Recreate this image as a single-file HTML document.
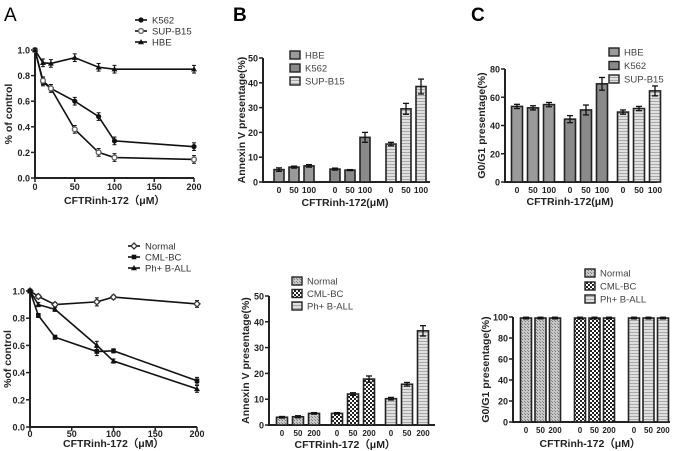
<!DOCTYPE html>
<html><head><meta charset="utf-8"><style>
html,body{margin:0;padding:0;background:#fff;}
svg{display:block;font-family:"Liberation Sans",Arial,sans-serif;}
</style></head><body>
<svg id="fig" width="675" height="451" viewBox="0 0 675 451">
<defs>
<pattern id="pStripe" width="4" height="3" patternUnits="userSpaceOnUse"><rect width="4" height="3" fill="#e0e0e0"/><rect y="2" width="4" height="1" fill="#a8a8a8"/></pattern>
<pattern id="pDots" width="3" height="3" patternUnits="userSpaceOnUse"><rect width="3" height="3" fill="#c8c8c8"/><rect width="1" height="1" fill="#777"/><rect x="2" y="2" width="1" height="1" fill="#888"/></pattern>
<pattern id="pCheck" width="4" height="4" patternUnits="userSpaceOnUse"><rect width="4" height="4" fill="#fff"/><rect width="2" height="2" fill="#222"/><rect x="2" y="2" width="2" height="2" fill="#222"/></pattern>
</defs>
<text x="4" y="21" font-size="19">A</text>
<text x="233" y="21" font-size="19" font-weight="bold">B</text>
<text x="471" y="21" font-size="19" font-weight="bold">C</text>
</svg>
<script>
// ---- Panel A top data ----
const aTopX = [0, 10, 20, 50, 80, 100, 200];
const aTopK562 = [1.0, 0.75, 0.70, 0.60, 0.48, 0.29, 0.245];
const aTopSUP = [1.0, 0.76, 0.70, 0.38, 0.20, 0.16, 0.145];
const aTopHBE = [1.0, 0.90, 0.895, 0.94, 0.865, 0.85, 0.85];
const aTopErr = [0.01, 0.03, 0.03, 0.03, 0.03, 0.03, 0.03];
const aTopSeries = ["K562", "SUP-B15", "HBE"];
const lineYTicks = [0, 0.2, 0.4, 0.6, 0.8, 1.0];
const lineXTicks = [0, 50, 100, 150, 200];
// ---- Panel A bottom data ----
const aBotX = [0, 10, 30, 80, 100, 200];
const aBotNormal = [1.0, 0.96, 0.90, 0.92, 0.955, 0.905];
const aBotCML = [1.0, 0.82, 0.66, 0.555, 0.56, 0.34];
const aBotPh = [1.0, 0.90, 0.865, 0.60, 0.485, 0.28];
const aBotErr = [0.01, 0.015, 0.015, 0.03, 0.015, 0.025];
const aBotSeries = ["Normal", "CML-BC", "Ph+ B-ALL"];
// ---- Panel B top data ----
const bTopCats = ["0", "50", "100"];
const bTopSeries = ["HBE", "K562", "SUP-B15"];
const bTopVals = [[5, 6, 6.5], [5.2, 4.8, 18], [15.3, 29.5, 38.5]];
const bTopErr = [[0.7, 0.4, 0.5], [0.4, 0.2, 2.0], [0.7, 2.2, 3.0]];
const bTopTicks = [0, 10, 20, 30, 40, 50];
// ---- Panel C top data ----
const cTopCats = ["0", "50", "100"];
const cTopSeries = ["HBE", "K562", "SUP-B15"];
const cTopVals = [[53.5, 52.5, 54.8], [44.5, 51, 69.5], [49.5, 52, 64.5]];
const cTopErr = [[1.5, 1.5, 1.5], [2.5, 3.5, 4.5], [1.5, 1.5, 3.5]];
const cTopTicks = [0, 20, 40, 60, 80];
// ---- Panel B bottom data ----
const bBotCats = ["0", "50", "200"];
const bBotSeries = ["Normal", "CML-BC", "Ph+ B-ALL"];
const bBotVals = [[3, 3.2, 4.5], [4.5, 12, 17.8], [10.2, 15.8, 36.5]];
const bBotErr = [[0.3, 0.4, 0.3], [0.3, 0.5, 1.2], [0.5, 0.7, 2.0]];
const bBotTicks = [0, 10, 20, 30, 40, 50];
// ---- Panel C bottom data ----
const cBotCats = ["0", "50", "200"];
const cBotSeries = ["Normal", "CML-BC", "Ph+ B-ALL"];
const cBotVals = [[99, 99, 99], [99, 99, 99], [99, 99, 99]];
const cBotErr = [[0.8, 0.8, 0.8], [0.8, 0.8, 0.8], [0.8, 0.8, 0.8]];
const cBotTicks = [0, 20, 40, 60, 80, 100];

const NS = "http://www.w3.org/2000/svg";
const svg = document.getElementById("fig");
function mk(tag, attrs, parent, txt) {
  const e = document.createElementNS(NS, tag);
  for (const k in attrs) e.setAttribute(k, attrs[k]);
  if (txt !== undefined) e.textContent = txt;
  (parent || svg).appendChild(e);
  return e;
}

function axes(g, x0, x1, y0, y1, yTicks, yMin, yMax, yFmt, yTitle, yTitleX) {
  const sy = v => y0 - (v - yMin) / (yMax - yMin) * (y0 - y1);
  const ax = mk("line", {x1: x0, y1: y1, x2: x0, y2: y0, stroke: "#222", "stroke-width": 2}, g);
  
  
  const bx = mk("line", {x1: x0 - 1, y1: y0, x2: x1, y2: y0, stroke: "#222", "stroke-width": 2}, g);
  
  
  yTicks.forEach(t => {
    const y = sy(t);
    mk("line", {x1: x0 - 4, y1: y, x2: x0, y2: y, stroke: "#222", "stroke-width": 1.5}, g);
    const tl = mk("text", {x: x0 - 5, y: y + 3.5, "font-size": 9, "font-weight": "bold", "text-anchor": "end", fill: "#222"}, g, yFmt(t));
    
    
  });
  const cy = (y0 + y1) / 2;
  const yt = mk("text", {x: yTitleX, y: cy, "font-size": 10.5, "font-weight": "bold", "text-anchor": "middle", fill: "#222", transform: `rotate(-90 ${yTitleX} ${cy})`}, g, yTitle);
  
  
  return sy;
}

function lineChart(o) {
  const g = mk("g", {}, svg);
  
  
  const sy = axes(g, o.x0, o.x1, o.y0, o.y1, lineYTicks, 0, 1, v => v.toFixed(1), o.ytitle, o.ytx);
  const sx = v => o.x0 + v / 200 * (o.x1 - o.x0);
  lineXTicks.forEach(t => {
    mk("line", {x1: sx(t), y1: o.y0, x2: sx(t), y2: o.y0 + 4, stroke: "#222", "stroke-width": 1.5}, g);
    const tl = mk("text", {x: sx(t), y: o.y0 + o.tickOff, "font-size": 9, "font-weight": "bold", "text-anchor": "middle", fill: "#222"}, g, String(t));
    
    
  });
  const xt = mk("text", {x: (o.x0 + o.x1) / 2, y: o.y0 + o.titleOff, "font-size": 10.5, "font-weight": "bold", "text-anchor": "middle", fill: "#222"}, g, "CFTRinh-172\uFF08\u03BCM\uFF09");
  
  
  o.series.forEach((s, i) => {
    const pts = o.xs.map((x, j) => sx(x) + "," + sy(s.vals[j])).join(" ");
    const pl = mk("polyline", {points: pts, fill: "none", stroke: "#111", "stroke-width": 1.6}, g);
    
    
    o.xs.forEach((x, j) => {
      const cx = sx(x), cy = sy(s.vals[j]), e = o.err[j];
      mk("line", {x1: cx, y1: sy(s.vals[j] + e), x2: cx, y2: sy(s.vals[j] - e), stroke: "#111", "stroke-width": 1.2}, g);
      mk("line", {x1: cx - 2, y1: sy(s.vals[j] + e), x2: cx + 2, y2: sy(s.vals[j] + e), stroke: "#111", "stroke-width": 1}, g);
      mk("line", {x1: cx - 2, y1: sy(s.vals[j] - e), x2: cx + 2, y2: sy(s.vals[j] - e), stroke: "#111", "stroke-width": 1}, g);
      marker(g, s.marker, cx, cy, 'point-' + s.label.toLowerCase().replace(/[^a-z0-9]+/g, '-'));
    });
    const ly = o.legY + i * o.legDy;
    mk("line", {x1: o.legX - 6, y1: ly, x2: o.legX + 6, y2: ly, stroke: "#111", "stroke-width": 1.6}, g);
    marker(g, s.marker, o.legX, ly, 'legend-marker');
    const lt = mk("text", {x: o.legX + 11, y: ly + 3.5, "font-size": 9.5, fill: "#333"}, g, s.label);
    
    
  });
}
function marker(g, type, cx, cy, name) {
  let m;
  if (type === "circle") m = mk("circle", {cx, cy, r: 2.6, fill: "#111"}, g);
  else if (type === "ocircle") m = mk("circle", {cx, cy, r: 2.4, fill: "#fff", stroke: "#666", "stroke-width": 1.4}, g);
  else if (type === "square") m = mk("rect", {x: cx - 2.3, y: cy - 2.3, width: 4.6, height: 4.6, fill: "#111"}, g);
  else if (type === "tri") m = mk("polygon", {points: `${cx},${cy - 3} ${cx + 3},${cy + 2.2} ${cx - 3},${cy + 2.2}`, fill: "#111"}, g);
  else if (type === "diamond") m = mk("polygon", {points: `${cx},${cy - 3} ${cx + 3},${cy} ${cx},${cy + 3} ${cx - 3},${cy}`, fill: "#fff", stroke: "#333", "stroke-width": 1.3}, g);
  
  
}

function barChart(o) {
  const g = mk("g", {}, svg);
  
  
  const yMax = o.ticks[o.ticks.length - 1];
  const sy = axes(g, o.x0, o.x1, o.y0, o.y1, o.ticks, 0, yMax, v => String(v), o.ytitle, o.ytx);
  const bw = o.bw;
  o.vals.forEach((grp, gi) => {
    grp.forEach((v, ci) => {
      const cx = o.gx[gi] + ci * o.step;
      const r = mk("rect", {x: cx - bw / 2, y: sy(v), width: bw, height: o.y0 - sy(v), fill: o.fills[gi], stroke: "#222", "stroke-width": 1.6}, g);
      
      
      const e = o.err[gi][ci];
      mk("line", {x1: cx, y1: sy(v + e), x2: cx, y2: sy(v - e), stroke: "#111", "stroke-width": 1.3}, g);
      mk("line", {x1: cx - 3, y1: sy(v + e), x2: cx + 3, y2: sy(v + e), stroke: "#111", "stroke-width": 1.3}, g);
      mk("line", {x1: cx - 3, y1: sy(v - e), x2: cx + 3, y2: sy(v - e), stroke: "#111", "stroke-width": 1.3}, g);
      const tl = mk("text", {x: cx, y: o.y0 + o.tickOff, "font-size": o.tfs, "font-weight": "bold", "text-anchor": "middle", fill: "#222"}, g, o.cats[ci]);
      
      
    });
    const ly = o.legY + gi * o.legDy;
    const lb = mk("rect", {x: o.legX, y: ly - 4, width: 10, height: 8, fill: o.fills[gi], stroke: "#222", "stroke-width": 1.4}, g);
    
    
    const lt = mk("text", {x: o.legX + 15, y: ly + 3.5, "font-size": 9.5, fill: "#444"}, g, o.series[gi]);
    
    
  });
  const xt = mk("text", {x: o.xtx, y: o.y0 + o.titleOff, "font-size": 10.5, "font-weight": "bold", "text-anchor": "middle", fill: "#222"}, g, o.xtitle);
  
  
}

lineChart({name: "chart-a-top", x0: 35, x1: 194, y0: 178, y1: 50, ytx: 12, ytitle: "% of control", xs: aTopX, err: aTopErr,
  tickOff: 12, titleOff: 26,
  legX: 141, legY: 20, legDy: 11,
  series: [{label: aTopSeries[0], vals: aTopK562, marker: "circle"},
           {label: aTopSeries[1], vals: aTopSUP, marker: "ocircle"},
           {label: aTopSeries[2], vals: aTopHBE, marker: "tri"}]});
lineChart({name: "chart-a-bottom", x0: 30, x1: 197, y0: 427, y1: 291, ytx: 11, ytitle: "%of control", xs: aBotX, err: aBotErr,
  tickOff: 10, titleOff: 20,
  legX: 134, legY: 246, legDy: 11,
  series: [{label: aBotSeries[0], vals: aBotNormal, marker: "diamond"},
           {label: aBotSeries[1], vals: aBotCML, marker: "square"},
           {label: aBotSeries[2], vals: aBotPh, marker: "tri"}]});
barChart({name: "chart-b-top", x0: 263, x1: 430, y0: 182, y1: 58, ticks: bTopTicks, ytitle: "Annexin V presentage(%)", ytx: 245,
  cats: bTopCats, series: bTopSeries, vals: bTopVals, err: bTopErr, gx: [279, 335, 391], step: 15, bw: 10,
  tickOff: 11, titleOff: 24, tfs: 8.5,
  fills: ["#9a9a9a", "#8a8a8a", "url(#pStripe)"], legX: 290, legY: 55, legDy: 13, xtitle: "CFTRinh-172(\u03BCM)", xtx: 345});
barChart({name: "chart-c-top", x0: 505, x1: 657, y0: 182, y1: 69, ticks: cTopTicks, ytitle: "G0/G1 presentage(%)", ytx: 485,
  cats: cTopCats, series: cTopSeries, vals: cTopVals, err: cTopErr, gx: [517, 570, 623], step: 16, bw: 11,
  tickOff: 11, titleOff: 23, tfs: 8.5,
  fills: ["#9a9a9a", "#8a8a8a", "url(#pStripe)"], legX: 609, legY: 52, legDy: 13.5, xtitle: "CFTRinh-172(\u03BCM)", xtx: 570});
barChart({name: "chart-b-bottom", x0: 269, x1: 435, y0: 425, y1: 296, ticks: bBotTicks, ytitle: "Annexin V presentage(%)", ytx: 249,
  cats: bBotCats, series: bBotSeries, vals: bBotVals, err: bBotErr, gx: [282, 337, 391], step: 16, bw: 11,
  tickOff: 11, titleOff: 23, tfs: 8,
  fills: ["url(#pDots)", "url(#pCheck)", "url(#pStripe)"], legX: 292, legY: 281, legDy: 12.5, xtitle: "CFTRinh-172\uFF08\u03BCM\uFF09", xtx: 345});
barChart({name: "chart-c-bottom", x0: 513, x1: 670, y0: 422, y1: 317, ticks: cBotTicks, ytitle: "G0/G1 presentage(%)", ytx: 489,
  cats: cBotCats, series: cBotSeries, vals: cBotVals, err: cBotErr, gx: [526, 580, 634], step: 14.5, bw: 11,
  tickOff: 11, titleOff: 25, tfs: 8,
  fills: ["url(#pDots)", "url(#pCheck)", "url(#pStripe)"], legX: 585, legY: 273, legDy: 13, xtitle: "CFTRinh-172\uFF08\u03BCM\uFF09", xtx: 590});
</script>
</body></html>
